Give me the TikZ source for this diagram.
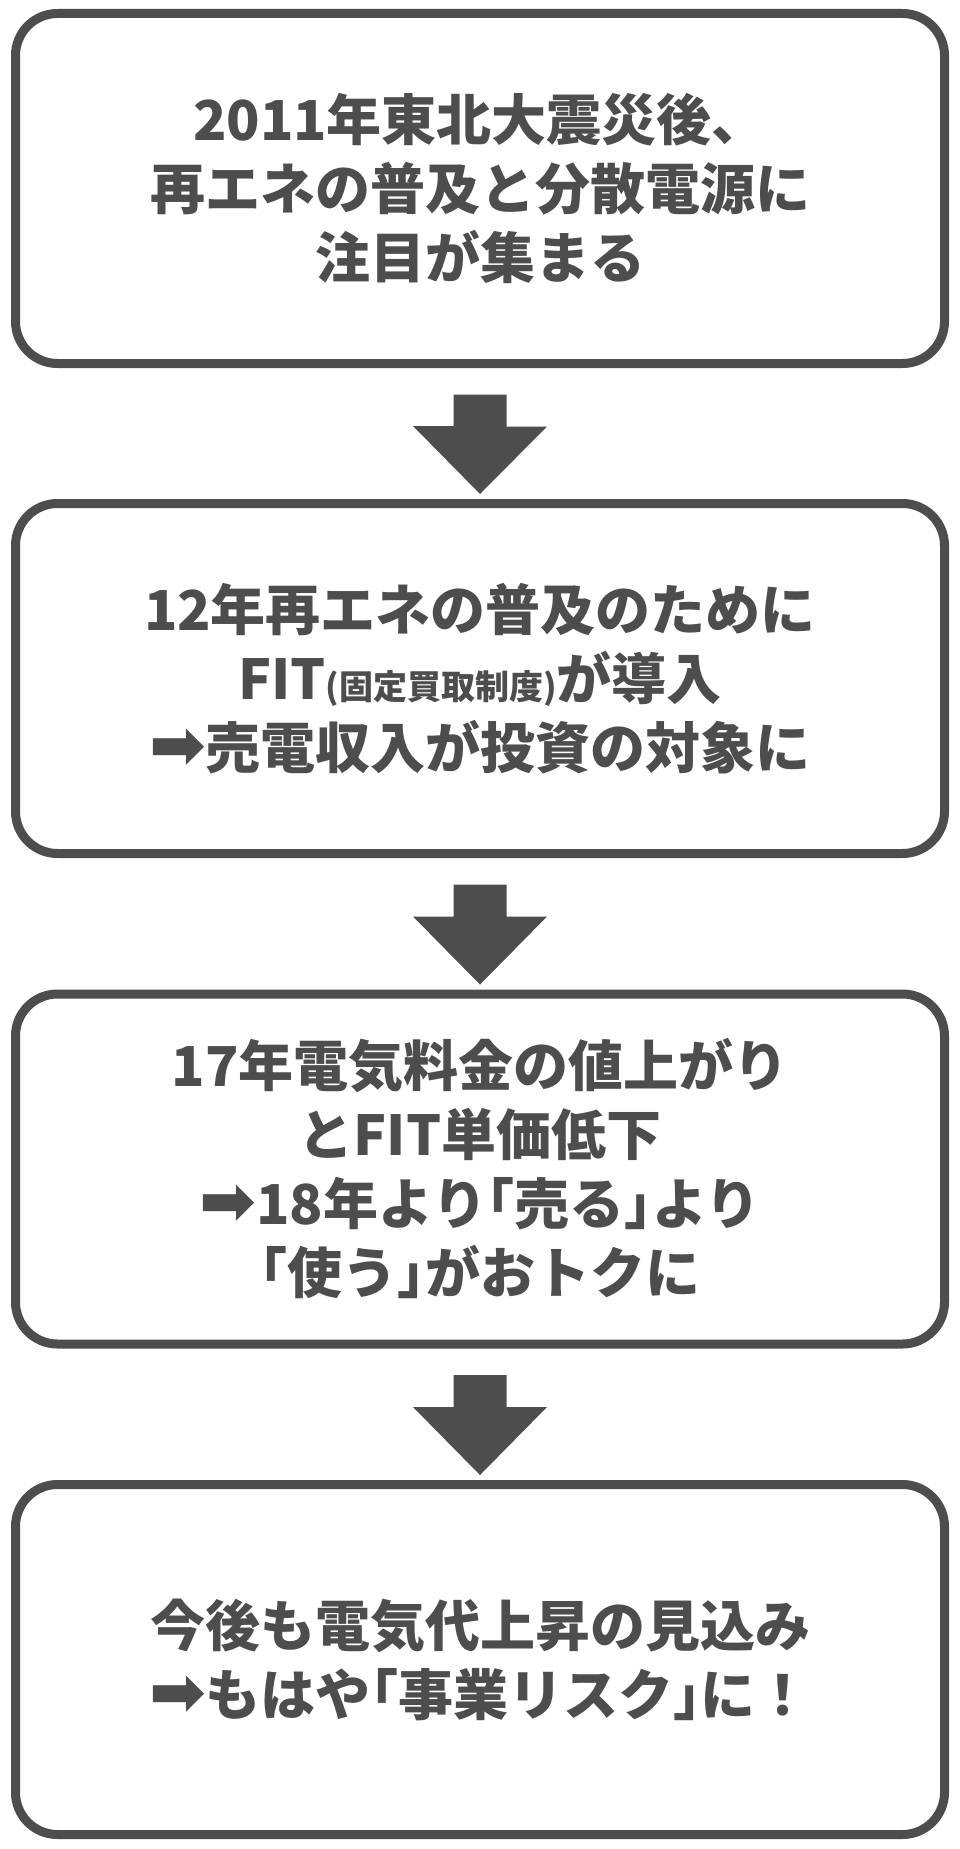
\documentclass[tikz,border=0pt]{standalone}
\usepackage{fontspec}
\setmainfont{Noto Sans CJK JP}
\newfontfamily\arrowfont{DejaVu Sans}
\newfontfamily\halffont{Noto Sans CJK JP}[RawFeature=+halt]
\usetikzlibrary{calc}
\definecolor{boxgray}{HTML}{4D4D4D}
\newcommand{\nextarrow}{{\arrowfont\fontsize{68}{69}\selectfont ➡}}
\newcommand{\smalltext}[1]{{\fontsize{34}{34}\selectfont #1}}
\newcommand{\quoted}[1]{{\halffont 「}#1{\halffont 」}}

\begin{document}
\begin{tikzpicture}[x=1pt,y=-1pt]
        %
        % `panel' is used for the four rounded boxes.
        % `downarrow' is used for the block arrows between them.
        \tikzstyle{panel} = [draw=boxgray,line width=9pt,fill=white,rounded corners=42pt,
          minimum width=929pt,minimum height=350pt,inner sep=0pt,outer sep=0pt,
          align=center,text=boxgray,font=\bfseries\fontsize{55}{69}\selectfont]
        \tikzstyle{downarrow} = [fill=boxgray]
        %
        \useasboundingbox (0,0) rectangle (960,1849);
        %
        % Boxes
        \node[panel] (box1) at (480,188.5) {2011年東北大震災後、\\再エネの普及と分散電源に\\注目が集まる};
        \node[panel] (box2) at (480,678.5) {12年再エネの普及のために\\FIT\smalltext{(固定買取制度)}が導入\\\nextarrow 売電収入が投資の対象に};
        \node[panel] (box3) at (480,1169) {17年電気料金の値上がり\\とFIT単価低下\\\nextarrow 18年より\quoted{売る}より\\\quoted{使う}がおトクに};
        \node[panel] (box4) at (480,1659.5) {今後も電気代上昇の見込み\\\nextarrow もはや\quoted{事業リスク}に！};
        %
        % Arrows
        \fill[downarrow] (box1.south) ++(-26.5,31) -- ++(53,0) -- ++(0,32) -- ++(40.5,0)
          -- ($(box2.north)+(0,-9.5)$) -- ++(-67,-68) -- ++(40.5,0) -- cycle;
        \fill[downarrow] (box2.south) ++(-26.5,31) -- ++(53,0) -- ++(0,32) -- ++(40.5,0)
          -- ($(box3.north)+(0,-9.5)$) -- ++(-67,-68) -- ++(40.5,0) -- cycle;
        \fill[downarrow] (box3.south) ++(-26.5,31) -- ++(53,0) -- ++(0,32) -- ++(40.5,0)
          -- ($(box4.north)+(0,-9.5)$) -- ++(-67,-68) -- ++(40.5,0) -- cycle;
        %
\end{tikzpicture}
\end{document}
